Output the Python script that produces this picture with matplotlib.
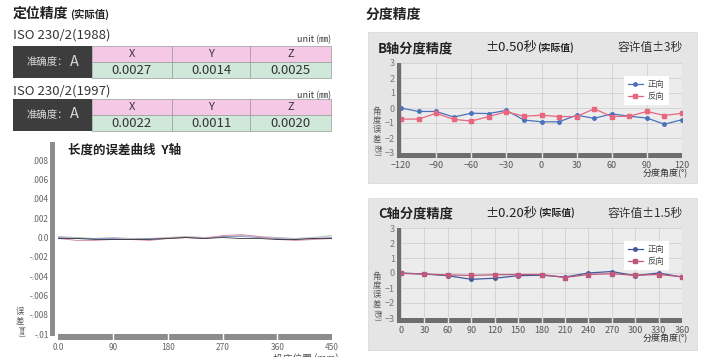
import matplotlib
matplotlib.use('Agg')
import matplotlib.pyplot as plt
from matplotlib.patches import Rectangle
import matplotlib.transforms as mtransforms

plt.rcParams['font.family'] = ['Noto Sans CJK SC', 'DejaVu Sans']

W, H = 705, 357

# ---------------- data ----------------
table_cols = ['X', 'Y', 'Z']
iso1988_vals = ['0.0027', '0.0014', '0.0025']
iso1997_vals = ['0.0022', '0.0011', '0.0020']
grade = 'A'

len_pos = [0, 30, 60, 90, 120, 150, 180, 210, 240, 270, 300, 330, 360, 390, 420, 450]
len_err_black = [-0.0001, -0.0001, -0.0002, -0.0002, -0.0002, -0.0002, -0.0001, 0.0,
                 -0.0001, 0.0, -0.0001, -0.0001, -0.0002, -0.0002, -0.0001, -0.0001]
len_err_red = [-0.0001, -0.0003, -0.0003, -0.0002, -0.0002, -0.0003, -0.0001, 0.0,
               -0.0001, 0.0002, 0.0003, 0.0001, -0.0002, -0.0003, -0.0002, -0.0001]
len_err_blue = [0.0, -0.0001, -0.0001, -0.0001, -0.0002, -0.0001, -0.0001, 0.0,
                -0.0001, 0.0001, 0.0001, 0.0, -0.0001, -0.0002, -0.0001, 0.0]
len_err_gray = [0.0001, 0.0, -0.0001, 0.0, -0.0001, -0.0001, 0.0, 0.0001,
                0.0, 0.0001, 0.0002, 0.0001, 0.0, -0.0001, 0.0, 0.0002]
len_yticks = [0.008, 0.006, 0.004, 0.002, 0.0, -0.002, -0.004, -0.006, -0.008, -0.01]
len_yticklabels = ['.008', '.006', '.004', '.002', '0.0', '-.002', '-.004', '-.006', '-.008', '-.01']
len_xticks = [0, 90, 180, 270, 360, 450]
len_xticklabels = ['0.0', '90', '180', '270', '360', '450']

b_angles = [-120, -105, -90, -75, -60, -45, -30, -15, 0, 15, 30, 45, 60, 75, 90, 105, 120]
b_forward = [0.0, -0.23, -0.23, -0.6, -0.35, -0.37, -0.16, -0.8, -0.92, -0.92,
             -0.48, -0.69, -0.39, -0.55, -0.67, -1.08, -0.78]
b_reverse = [-0.74, -0.74, -0.35, -0.76, -0.87, -0.57, -0.25, -0.55, -0.48, -0.57,
             -0.57, -0.05, -0.57, -0.55, -0.23, -0.5, -0.35]
b_xticks = [-120, -90, -60, -30, 0, 30, 60, 90, 120]

c_angles = [0, 30, 60, 90, 120, 150, 180, 210, 240, 270, 300, 330, 360]
c_forward = [0.0, -0.07, -0.18, -0.42, -0.35, -0.18, -0.15, -0.27, 0.0, 0.1, -0.18, 0.0, -0.27]
c_reverse = [-0.03, -0.07, -0.13, -0.16, -0.12, -0.1, -0.1, -0.3, -0.1, -0.05, -0.15, -0.1, -0.25]
c_xticks = [0, 30, 60, 90, 120, 150, 180, 210, 240, 270, 300, 330, 360]
deg_yticks = [-3, -2, -1, 0, 1, 2, 3]

# ---------------- figure ----------------
fig = plt.figure(figsize=(7.05, 3.57), dpi=100)
fig.patch.set_facecolor('white')


def rect(x0, y0, x1, y1):
    return [x0 / W, 1 - y1 / H, (x1 - x0) / W, (y1 - y0) / H]


ov = fig.add_axes([0, 0, 1, 1], zorder=0)
ov.set_xlim(0, W)
ov.set_ylim(H, 0)
ov.axis('off')

# ---------------- left: tables ----------------
t0 = ov.text(13, 14, '定位精度', fontsize=10, fontweight='bold', va='center', ha='left', color='#222')
ov.annotate('(实际值)', xy=(1, 0.5), xycoords=t0, xytext=(1, 0), textcoords='offset points',
            fontsize=7.5, fontweight='bold', va='center', ha='left', color='#222')

cell_edges = [92, 172, 250, 331]


def draw_table(y_title, y0, year, vals):
    ov.text(13, y_title, 'ISO 230/2(' + year + ')',
            fontsize=9.5, va='center', ha='left', color='#333')
    ov.text(331, y_title + 5, 'unit (㎜)', fontsize=6.5, va='center', ha='right', color='#333')
    ov.add_patch(Rectangle((13, y0), 79, 32, fc='#3d3d3d', ec='none'))
    ov.text(68, y0 + 16, '准确度：', fontsize=7.5, va='center', ha='right', color='#d9d9d9')
    ov.text(70, y0 + 15.5, grade, fontsize=10.5, va='center', ha='left', color='#d9d9d9')
    for i, (c, v) in enumerate(zip(table_cols, vals)):
        x0, x1 = cell_edges[i], cell_edges[i + 1]
        ov.add_patch(Rectangle((x0, y0), x1 - x0, 16, fc='#f5c9e6', ec='#9a9a9a', lw=0.5))
        ov.add_patch(Rectangle((x0, y0 + 16), x1 - x0, 16, fc='#d0e8da', ec='#9a9a9a', lw=0.5))
        ov.text((x0 + x1) / 2, y0 + 8, c, fontsize=8, va='center', ha='center', color='#333')
        ov.text((x0 + x1) / 2, y0 + 24.5, v, fontsize=9.5, va='center', ha='center', color='#333')


draw_table(35, 46, '1988', iso1988_vals)
draw_table(91, 99, '1997', iso1997_vals)

# ---------------- left: length error chart ----------------
ax1 = fig.add_axes(rect(58.5, 142, 332, 334), zorder=2)
ax1.set_xlim(0, 450)
ax1.set_ylim(-0.01, 0.0099)
for s in ax1.spines.values():
    s.set_visible(False)
ax1.set_facecolor('none')
ax1.plot(len_pos, len_err_gray, color='#b8b8b8', lw=0.7)
ax1.plot(len_pos, len_err_blue, color='#7a90cc', lw=0.6)
ax1.plot(len_pos, len_err_red, color='#d890b0', lw=0.7)
ax1.plot(len_pos, len_err_black, color='#333333', lw=0.6)
ax1.set_yticks(len_yticks)
ax1.set_yticklabels(len_yticklabels)
ax1.set_xticks(len_xticks)
ax1.set_xticklabels(len_xticklabels)
ax1.tick_params(axis='y', length=0, pad=7, labelsize=6, colors='#666')
ax1.tick_params(axis='x', length=0, pad=6.5, labelsize=6, colors='#666')
aw, ah = 332 - 58.5, 334 - 142
ax1.add_patch(Rectangle((-8 / aw, -2 / ah), 5 / aw, 1 + 2 / ah, transform=ax1.transAxes,
                        fc='#8c8c8c', ec='none', clip_on=False))
ax1.add_patch(Rectangle((0, -6 / ah), 1, 6 / ah, transform=ax1.transAxes,
                        fc='#8c8c8c', ec='none', clip_on=False))
btr = mtransforms.blended_transform_factory(ax1.transData, ax1.transAxes)
for t in len_xticks[1:-1]:
    ax1.plot([t, t], [-6 / ah, 0], transform=btr, color='white', lw=1.0, clip_on=False)
ov.text(68, 150, '长度的误差曲线  Y轴', fontsize=9, fontweight='bold', va='center', ha='left', color='#222')
ov.text(20, 316, '误\n差', fontsize=6, va='center', ha='center', color='#555', linespacing=1.1)
ov.text(20, 331, '(㎜)', fontsize=5.5, va='center', ha='center', color='#555', rotation=-90)
ov.text(306, 353, '机床位置 (mm)', fontsize=7, va='top', ha='center', color='#555')

# ---------------- right: indexing accuracy ----------------
ov.text(366, 15, '分度精度', fontsize=10, fontweight='bold', va='center', ha='left', color='#222')

blue_b, red_b = '#4a72bc', '#e8677f'
blue_c, red_c = '#3f5a9c', '#c0587c'


def deg_chart(py0, py1, angles, fwd, rev, xticks, title, acc, tol, cb, cr, pan0, pan1, ty, leg_y):
    ov.add_patch(Rectangle((368, pan0), 329, pan1 - pan0, fc='#e5e5e5', ec='#d6d6d6', lw=0.5))
    ax = fig.add_axes(rect(401, py0, 682, py1), zorder=2)
    ax.set_xlim(xticks[0], xticks[-1])
    ax.set_ylim(-3, 3)
    ax.set_facecolor('#ececec')
    for s in ax.spines.values():
        s.set_visible(False)
    ax.set_xticks(xticks)
    ax.set_yticks(deg_yticks)
    ax.grid(True, color='#d0d0d0', lw=0.6)
    ax.set_axisbelow(True)
    ax.tick_params(axis='y', length=0, pad=4.5, labelsize=6.5, colors='#777')
    ax.tick_params(axis='x', length=0, pad=6, labelsize=6.5, colors='#555')
    ax.plot(angles, fwd, color=cb, lw=0.9, marker='o', ms=2.5, label='正向')
    ax.plot(angles, rev, color=cr, lw=0.9, marker='s', ms=2.5, label='反向')
    aw2, ah2 = 281, py1 - py0
    ax.add_patch(Rectangle((-4 / aw2, -5 / ah2), 4 / aw2, 1 + 5 / ah2, transform=ax.transAxes,
                           fc='#6e6e6e', ec='none', clip_on=False))
    ax.add_patch(Rectangle((0, -5 / ah2), 1, 5 / ah2, transform=ax.transAxes,
                           fc='#6e6e6e', ec='none', clip_on=False))
    btr2 = mtransforms.blended_transform_factory(ax.transData, ax.transAxes)
    for t in xticks[1:-1]:
        ax.plot([t, t], [-5 / ah2, 0], transform=btr2, color='#e5e5e5', lw=1.0, clip_on=False)
    leg = ax.legend(loc='upper right', bbox_to_anchor=(673 / W, 1 - leg_y / H),
                    bbox_transform=fig.transFigure, fontsize=6, frameon=True, fancybox=False,
                    framealpha=1, edgecolor='none', handlelength=1.8, borderpad=0.5,
                    labelspacing=0.35, handletextpad=0.6)
    for txt in leg.get_texts():
        txt.set_color('#444')
    ov.text(378, ty, title, fontsize=9.5, fontweight='bold', va='center', ha='left', color='#222')
    ta = ov.text(485, ty, acc, fontsize=9.5, va='center', ha='left', color='#222')
    ov.annotate('(实际值)', xy=(1, 0.5), xycoords=ta, xytext=(0.5, 0), textcoords='offset points',
                fontsize=7, fontweight='bold', va='center', ha='left', color='#222')
    ov.text(683, ty, tol, fontsize=8.5, va='center', ha='right', color='#333')
    ov.text(377, py0 + 62, '角\n度\n误\n差', fontsize=6, va='center', ha='center',
            color='#555', linespacing=1.0)
    ov.text(377, py0 + 87, '(秒)', fontsize=5.5, va='center', ha='center',
            color='#555', rotation=-90)
    ov.text(688, py1 + 21, '分度角度(°)', fontsize=6.5, va='center', ha='right', color='#333')
    return ax


deg_chart(63, 153, b_angles, b_forward, b_reverse, b_xticks, 'B轴分度精度', '±0.50秒', '容许值±3秒',
          blue_b, red_b, 32, 183, 48, 72)
deg_chart(228, 318, c_angles, c_forward, c_reverse, c_xticks, 'C轴分度精度', '±0.20秒', '容许值±1.5秒',
          blue_c, red_c, 198, 350, 213, 237)

fig.savefig('out.png', dpi=100)
